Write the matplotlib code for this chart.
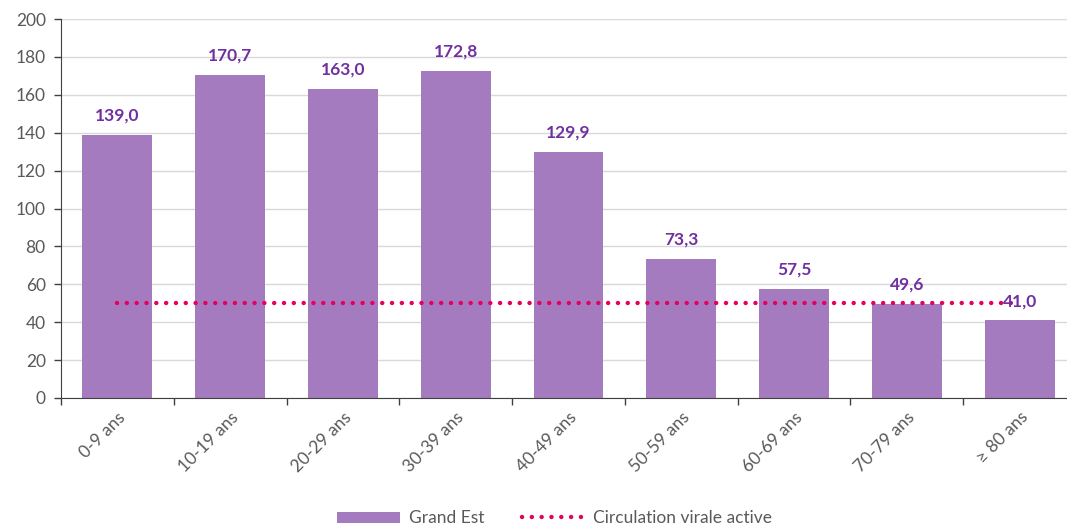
import matplotlib
matplotlib.use("Agg")
import matplotlib.pyplot as plt
from matplotlib.lines import Line2D
from matplotlib.patches import Patch

categories = ["0-9 ans", "10-19 ans", "20-29 ans", "30-39 ans", "40-49 ans",
              "50-59 ans", "60-69 ans", "70-79 ans", "≥ 80 ans"]
values = [139.0, 170.7, 163.0, 172.8, 129.9, 73.3, 57.5, 49.6, 41.0]
threshold = [50] * len(categories)
labels = ["139,0", "170,7", "163,0", "172,8", "129,9", "73,3", "57,5", "49,6", "41,0"]

plt.rcParams['font.family'] = ['Lato', 'DejaVu Sans']

fig = plt.figure(figsize=(10.67, 5.26), dpi=100)
W, H = 1067, 526
ax = fig.add_axes([61 / W, (H - 398) / H, (1076 - 61) / W, (398 - 19) / H])

x = list(range(len(categories)))
bar_color = "#A57BC0"
ax.bar(x, values, width=0.62, color=bar_color, zorder=2)
ax.plot(x, threshold, linestyle=(0, (0.01, 2.2)), color="#E6005C", linewidth=3.2,
        dash_capstyle="round", zorder=3)

for xi, v, lab in zip(x, values, labels):
    ax.annotate(lab, (xi, v), xytext=(0, 8), textcoords="offset points",
                ha="center", va="bottom", color="#7030A0", fontsize=12.5,
                fontweight="bold", zorder=4)

ax.set_xlim(-0.5, len(categories) - 0.5)
ax.set_ylim(0, 200)
ax.set_yticks(range(0, 201, 20))
ax.yaxis.grid(True, color="#D9D9D9", linewidth=1, zorder=0)
ax.set_axisbelow(True)

ax.set_xticks([i - 0.5 for i in range(len(categories) + 1)], minor=False)
ax.set_xticklabels([])
ax.set_xticks(x, minor=True)
ax.set_xticklabels(categories, minor=True, rotation=45, ha="right",
                   rotation_mode="anchor", color="#595959", fontsize=12.5)
ax.tick_params(axis="x", which="minor", length=0, pad=8)
ax.tick_params(axis="x", which="major", length=5, width=1, color="#404040", direction="out")
ax.tick_params(axis="y", length=5, width=1, color="#404040", labelcolor="#595959",
               labelsize=12.5, pad=6)

for s in ["top", "right"]:
    ax.spines[s].set_visible(False)
ax.spines["left"].set_color("#404040")
ax.spines["bottom"].set_color("#404040")

handles = [Patch(facecolor=bar_color, edgecolor="none"),
           Line2D([0], [0], linestyle=(0, (0.01, 2.2)), color="#E6005C", linewidth=3.2,
                  dash_capstyle="round")]
fig.legend(handles, ["Grand Est", "Circulation virale active"], loc="lower center",
           bbox_to_anchor=(0.52, -0.03), ncol=2, frameon=False, fontsize=12.5,
           labelcolor="#595959", handlelength=3.6, handleheight=0.6,
           handletextpad=0.5, columnspacing=2.2)

fig.savefig("out.png", dpi=100)
